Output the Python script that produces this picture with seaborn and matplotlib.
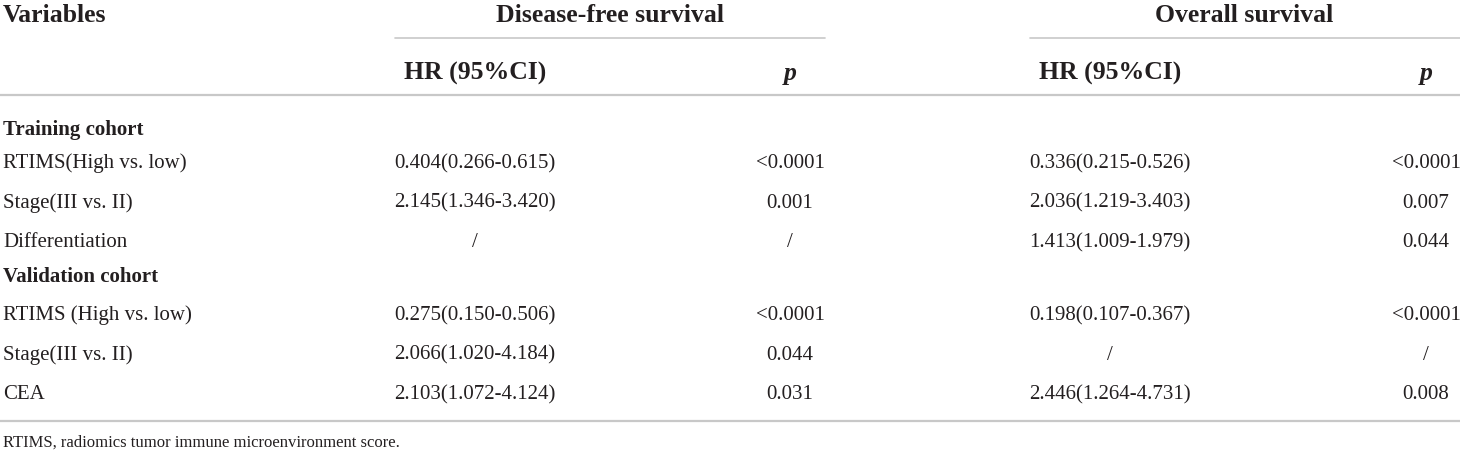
import matplotlib
matplotlib.use("Agg")
import matplotlib.pyplot as plt
import seaborn as sns
import pandas as pd

# Table contents
groups = ["Training cohort", "Validation cohort"]
variables = [
    ["RTIMS(High vs. low)", "Stage(III vs. II)", "Differentiation"],
    ["RTIMS (High vs. low)", "Stage(III vs. II)", "CEA"],
]
dfs_hr = [
    ["0.404(0.266-0.615)", "2.145(1.346-3.420)", "/"],
    ["0.275(0.150-0.506)", "2.066(1.020-4.184)", "2.103(1.072-4.124)"],
]
dfs_p = [
    ["<0.0001", "0.001", "/"],
    ["<0.0001", "0.044", "0.031"],
]
os_hr = [
    ["0.336(0.215-0.526)", "2.036(1.219-3.403)", "1.413(1.009-1.979)"],
    ["0.198(0.107-0.367)", "/", "2.446(1.264-4.731)"],
]
os_p = [
    ["<0.0001", "0.007", "0.044"],
    ["<0.0001", "/", "0.008"],
]
footnote = "RTIMS, radiomics tumor immune microenvironment score."

rows = []
for g, grp in enumerate(groups):
    for i, var in enumerate(variables[g]):
        rows.append({"group": grp, "variable": var,
                     "dfs_hr": dfs_hr[g][i], "dfs_p": dfs_p[g][i],
                     "os_hr": os_hr[g][i], "os_p": os_p[g][i]})
df = pd.DataFrame(rows)

sns.set_theme(style="white")
plt.rcParams["font.family"] = ["Liberation Serif", "DejaVu Serif"]

W, H = 1460, 453
fig = plt.figure(figsize=(W / 100, H / 100), dpi=100)
ax = fig.add_axes([0, 0, 1, 1])
ax.set_xlim(0, W)
ax.set_ylim(H, 0)
ax.axis("off")

line_col = "#c8c8c8"
txt = "#231f20"
head_fs = 18.5
body_fs = 15
va = "center_baseline"

# column centres
x_var = 3
x_dfs_hr, x_dfs_p = 475, 790
x_os_hr, x_os_p = 1110, 1426

# header
ax.text(x_var, 13, "Variables", fontsize=head_fs, fontweight="bold", color=txt, va=va)
ax.text(610, 13, "Disease-free survival", fontsize=head_fs, fontweight="bold", color=txt,
        va=va, ha="center")
ax.text(1244, 13, "Overall survival", fontsize=head_fs, fontweight="bold", color=txt,
        va=va, ha="center")
ax.plot([395, 825], [38, 38], color=line_col, lw=1.2)
ax.plot([1030, 1460], [38, 38], color=line_col, lw=1.2)
for xh, xp in [(x_dfs_hr, x_dfs_p), (x_os_hr, x_os_p)]:
    ax.text(xh, 71, "HR (95%CI)", fontsize=head_fs, fontweight="bold", color=txt,
            va=va, ha="center")
    ax.text(xp, 71, "p", fontsize=head_fs, fontweight="bold", fontstyle="italic",
            color=txt, va=va, ha="center")
ax.plot([0, W], [95, 95], color=line_col, lw=1.6)

# body: vertical layout of each group (header line, then its rows)
group_y = {"Training cohort": 127, "Validation cohort": 274}
first_gap = {"Training cohort": 34, "Validation cohort": 39}
row_step = 39.5
for grp, sub in df.groupby("group", sort=False):
    y0 = group_y[grp]
    ax.text(x_var, y0, grp, fontsize=body_fs, fontweight="bold", color=txt, va=va)
    for k, (_, r) in enumerate(sub.iterrows()):
        y = y0 + first_gap[grp] + k * row_step
        ax.text(x_var, y, r["variable"], fontsize=body_fs, color=txt, va=va)
        ax.text(x_dfs_hr, y, r["dfs_hr"], fontsize=body_fs, color=txt, va=va, ha="center")
        ax.text(x_dfs_p, y, r["dfs_p"], fontsize=body_fs, color=txt, va=va, ha="center")
        ax.text(x_os_hr, y, r["os_hr"], fontsize=body_fs, color=txt, va=va, ha="center")
        ax.text(x_os_p, y, r["os_p"], fontsize=body_fs, color=txt, va=va, ha="center")

ax.plot([0, W], [421, 421], color=line_col, lw=1.6)
ax.text(x_var, 441, footnote, fontsize=12, color=txt, va=va)

fig.savefig("out.png", dpi=100)
